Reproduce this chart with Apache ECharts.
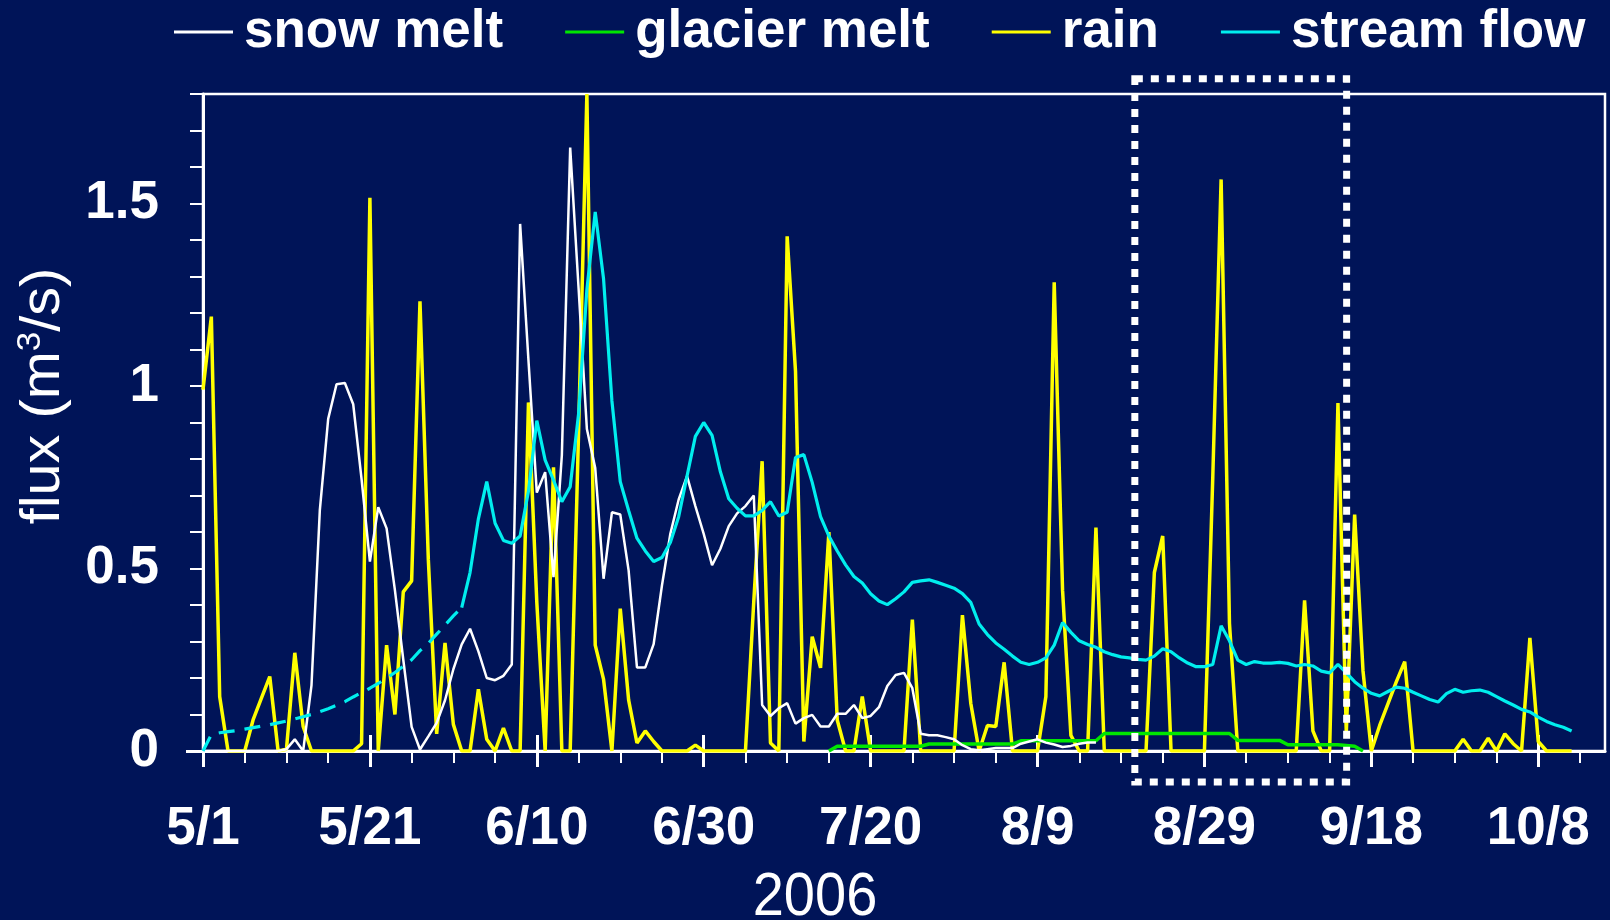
<!DOCTYPE html>
<html><head><meta charset="utf-8">
<script src="https://cdn.jsdelivr.net/npm/echarts@6/dist/echarts.min.js"></script>
<style>html,body{margin:0;padding:0;background:#001458;}#c{width:1610px;height:920px;}</style>
</head><body><div id="c"></div>
<script>
// x values are days since 2006-05-01
const xTickLabels = ['5/1','5/21','6/10','6/30','7/20','8/9','8/29','9/18','10/8'];
const xTickDays = [0,20,40,60,80,100,120,140,160];
const yTickLabels = ['0','0.5','1','1.5'];
const yTickValues = [0,0.5,1,1.5];
const xAxisName = '2006';

const snowStart = 0;
const snowMelt = [
 0,0,0,0,0,0,0,0,0,0,
 0.005,0.032,0,0.18,0.66,0.91,1.005,1.008,0.95,0.745,
 0.519,0.668,0.61,0.44,0.25,0.066,0.004,0.04,0.077,0.139,
 0.224,0.292,0.335,0.273,0.2,0.194,0.206,0.237,1.444,1.07,
 0.708,0.764,0.476,0.81,1.653,1.27,0.882,0.775,0.472,0.654,
 0.648,0.495,0.229,0.229,0.293,0.454,0.595,0.689,0.753,0.671,
 0.595,0.509,0.554,0.616,0.651,0.671,0.70,0.126,0.096,0.117,
 0.131,0.075,0.09,0.099,0.067,0.067,0.102,0.102,0.126,0.09,
 0.096,0.12,0.178,0.208,0.214,0.172,0.047,0.043,0.043,0.038,
 0.032,0.016,0.005,0.002,0.005,0.008,0.008,0.008,0.02,0.026,
 0.032,0.023,0.018,0.011,0.014,0.02,0.023,0.023
];

const glacierStart = 75;
const glacierMelt = [
 0,
 0.013,0.013,0.013,0.013,0.013,0.013,0.013,0.013,0.013,0.013,0.013,
 0.019,0.019,0.019,0.019,0.019,0.019,0.019,0.019,0.019,0.019,0.019,
 0.028,0.028,0.028,0.028,0.028,0.028,0.028,0.028,0.028,0.028,
 0.048,0.048,0.048,0.048,0.048,0.048,0.048,0.048,0.048,0.048,0.048,0.048,0.048,0.048,0.048,0.048,
 0.029,0.029,0.029,0.029,0.029,0.029,
 0.017,0.017,0.017,0.017,0.017,0.017,0.017,
 0.015,0.013,
 0
];

const rainStart = 0;
const rain = [
 0.99,1.19,0.149,0,0,0,0.085,0.145,0.204,0,
 0.005,0.269,0.067,0,0,0,0,0,0,0.02,
 1.516,0,0.29,0.10,0.436,0.466,1.232,0.525,0.047,0.296,
 0.073,0,0,0.169,0.032,0,0.063,0,0,0.955,
 0.407,0,0.777,0,0,0.87,1.8,0.29,0.196,0,
 0.39,0.14,0.022,0.055,0.026,0,0,0,0,0.016,
 0,0,0,0,0,0,0.41,0.794,0.022,0,
 1.41,1.04,0.026,0.313,0.228,0.60,0.085,0,0,0.149,
 0,0,0,0,0,0.36,0,0,0,0,
 0,0.372,0.131,0,0.07,0.067,0.243,0,0,0,
 0,0.149,1.284,0.44,0.043,0,0,0.612,0,0,
 0,0,0,0,0.489,0.589,0,0,0,0,
 0,0.75,1.566,0.35,0,0,0,0,0,0,
 0,0,0.413,0.055,0,0,0.953,0.05,0.648,0.22,
 0,0.07,0.13,0.19,0.245,0,0,0,0,0,
 0,0.032,0,0,0.035,0,0.047,0.02,0,0.31,
 0.026,0,0,0,0
];

// estimated part of the stream flow record (drawn dashed)
const streamEstStart = 0;
const streamFlowEstimated = [
 0,0.045,0.05,0.053,0.056,0.06,0.064,0.068,0.072,0.077,
 0.082,0.088,0.094,0.1,0.108,0.116,0.125,0.135,0.148,0.16,
 0.172,0.185,0.2,0.215,0.232,0.25,0.275,0.295,0.32,0.345,
 0.37,0.393
];

const streamStart = 31;
const streamFlow = [
 0.393,0.489,0.636,0.738,0.624,0.577,0.569,0.589,0.712,
 0.905,0.797,0.742,0.683,0.724,0.923,1.264,1.477,1.293,0.959,
 0.738,0.659,0.583,0.548,0.519,0.53,0.571,0.642,0.753,0.862,
 0.9,0.865,0.765,0.691,0.665,0.644,0.644,0.659,0.683,0.644,
 0.654,0.804,0.812,0.736,0.642,0.589,0.548,0.51,0.478,0.46,
 0.431,0.411,0.401,0.417,0.436,0.462,0.466,0.469,0.462,0.454,
 0.446,0.431,0.407,0.348,0.319,0.296,0.279,0.26,0.243,0.237,
 0.243,0.255,0.29,0.352,0.325,0.302,0.292,0.284,0.272,0.264,
 0.258,0.255,0.251,0.249,0.26,0.28,0.272,0.255,0.241,0.231,
 0.231,0.237,0.343,0.302,0.249,0.237,0.245,0.241,0.241,0.243,
 0.24,0.233,0.237,0.233,0.219,0.214,0.237,0.214,0.19,0.172,
 0.158,0.151,0.163,0.175,0.172,0.161,0.151,0.141,0.134,0.157,
 0.169,0.161,0.165,0.167,0.161,0.149,0.137,0.126,0.114,0.107,
 0.093,0.081,0.072,0.065,0.055
];

// highlighted window (data units): days and flux
const boxDays = [111.66, 137.04];
const boxFlux = [-0.085, 1.842];

const FONT = '"Liberation Sans", Arial, Helvetica, sans-serif';
const WHITE = '#ffffff';
const toPairs = (arr, start) => arr.map((v, i) => [start + i, v]);

const minorDays = [];
for (let d = 0; d <= 165; d += 5) minorDays.push(d);
const yMinorTicks = [];
for (let k = 0; k <= 18; k++) yMinorTicks.push(+(k / 10).toFixed(1));

const chart = echarts.init(document.getElementById('c'), null, {renderer: 'canvas'});

const baseX = {type: 'value', min: 0, max: 168, position: 'bottom', splitLine: {show: false}};
const baseY = {type: 'value', min: 0, max: 1.8, position: 'left', splitLine: {show: false}};

const option = {
  backgroundColor: '#001458',
  animation: false,
  grid: {left: 203, right: 5, top: 94, bottom: 169, show: true, borderColor: WHITE, borderWidth: 2.5, backgroundColor: 'transparent'},
  legend: {
    data: ['snow melt', 'glacier melt', 'rain', 'stream flow'],
    left: 169, top: -1,
    icon: 'rect', itemWidth: 59, itemHeight: 3, itemGap: 62,
    textStyle: {color: WHITE, fontSize: 53, fontWeight: 'bold', fontFamily: FONT, padding: [0, 0, 0, 6], lineHeight: 56},
    selectedMode: false
  },
  xAxis: [
    Object.assign({}, baseX, {
      axisLine: {show: true, onZero: false, lineStyle: {color: WHITE, width: 3}},
      axisTick: {show: true, customValues: xTickDays, length: 16, lineStyle: {color: WHITE, width: 3}},
      axisLabel: {show: true, customValues: xTickDays, formatter: v => xTickLabels[xTickDays.indexOf(v)] || '',
        color: WHITE, fontSize: 53, fontWeight: 'bold', fontFamily: FONT, margin: 52}
    }),
    Object.assign({}, baseX, {
      axisLine: {show: false},
      axisTick: {show: true, inside: true, customValues: xTickDays, length: 16, lineStyle: {color: WHITE, width: 3}},
      axisLabel: {show: false}
    }),
    Object.assign({}, baseX, {
      axisLine: {show: false},
      axisTick: {show: true, customValues: minorDays, length: 12, lineStyle: {color: WHITE, width: 2}},
      axisLabel: {show: false}
    })
  ],
  yAxis: [
    Object.assign({}, baseY, {
      axisLine: {show: true, onZero: false, lineStyle: {color: WHITE, width: 3}},
      axisTick: {show: true, customValues: yMinorTicks, length: 13, lineStyle: {color: WHITE, width: 2}},
      axisLabel: {show: true, customValues: yTickValues, formatter: v => yTickLabels[yTickValues.indexOf(v)] || '',
        color: WHITE, fontSize: 53, fontWeight: 'bold', fontFamily: FONT, margin: 44}
    }),
    Object.assign({}, baseY, {
      axisLine: {show: false},
      axisTick: {show: true, customValues: [0], length: 17, lineStyle: {color: WHITE, width: 3}},
      axisLabel: {show: false}
    })
  ],
  series: [
    {name: 'rain', type: 'line', data: toPairs(rain, rainStart), showSymbol: false, symbol: 'none',
      lineStyle: {color: '#ffff00', width: 3.5}, itemStyle: {color: '#ffff00'}, z: 2},
    {name: 'glacier melt', type: 'line', data: toPairs(glacierMelt, glacierStart), showSymbol: false, symbol: 'none',
      lineStyle: {color: '#00e600', width: 3.5}, itemStyle: {color: '#00e600'}, z: 3},
    {name: 'snow melt', type: 'line', data: toPairs(snowMelt, snowStart), showSymbol: false, symbol: 'none',
      lineStyle: {color: WHITE, width: 2.5}, itemStyle: {color: WHITE}, z: 4},
    {name: 'stream flow', type: 'line', data: toPairs(streamFlow, streamStart), showSymbol: false, symbol: 'none',
      lineStyle: {color: '#00eeee', width: 3.2}, itemStyle: {color: '#00eeee'}, z: 5},
    {name: 'stream flow', type: 'line', data: toPairs(streamFlowEstimated, streamEstStart), showSymbol: false, symbol: 'none',
      lineStyle: {color: '#00eeee', width: 3.2, type: [16, 10]}, itemStyle: {color: '#00eeee'}, z: 5}
  ],
  graphic: [
    {id: 'xname', type: 'text', x: 815, y: 898, scaleY: 1.08, style: {text: xAxisName, fill: WHITE, font: '56px ' + FONT, align: 'center', verticalAlign: 'middle'}},
    {id: 'yname', type: 'text', x: 44, y: 396, rotation: Math.PI / 2, scaleX: 1.03,
      style: {text: '{a|flux (m}{s|3}{a|/s)}', align: 'center', verticalAlign: 'middle', fill: WHITE,
        rich: {a: {fontSize: 56, fontFamily: FONT, fill: WHITE, lineHeight: 60},
               s: {fontSize: 34, fontFamily: FONT, fill: WHITE, verticalAlign: 'top', lineHeight: 60}}}}
  ]
};
chart.setOption(option);

const p1 = chart.convertToPixel({xAxisIndex: 0, yAxisIndex: 0}, [boxDays[0], boxFlux[1]]);
const p2 = chart.convertToPixel({xAxisIndex: 0, yAxisIndex: 0}, [boxDays[1], boxFlux[0]]);
chart.setOption({graphic: [
  {id: 'box', type: 'rect', z: 100,
    shape: {x: p1[0], y: p1[1], width: p2[0] - p1[0], height: p2[1] - p1[1]},
    style: {fill: 'none', stroke: WHITE, lineWidth: 7, lineDash: [8, 8]}}
]});
</script>
</body></html>
